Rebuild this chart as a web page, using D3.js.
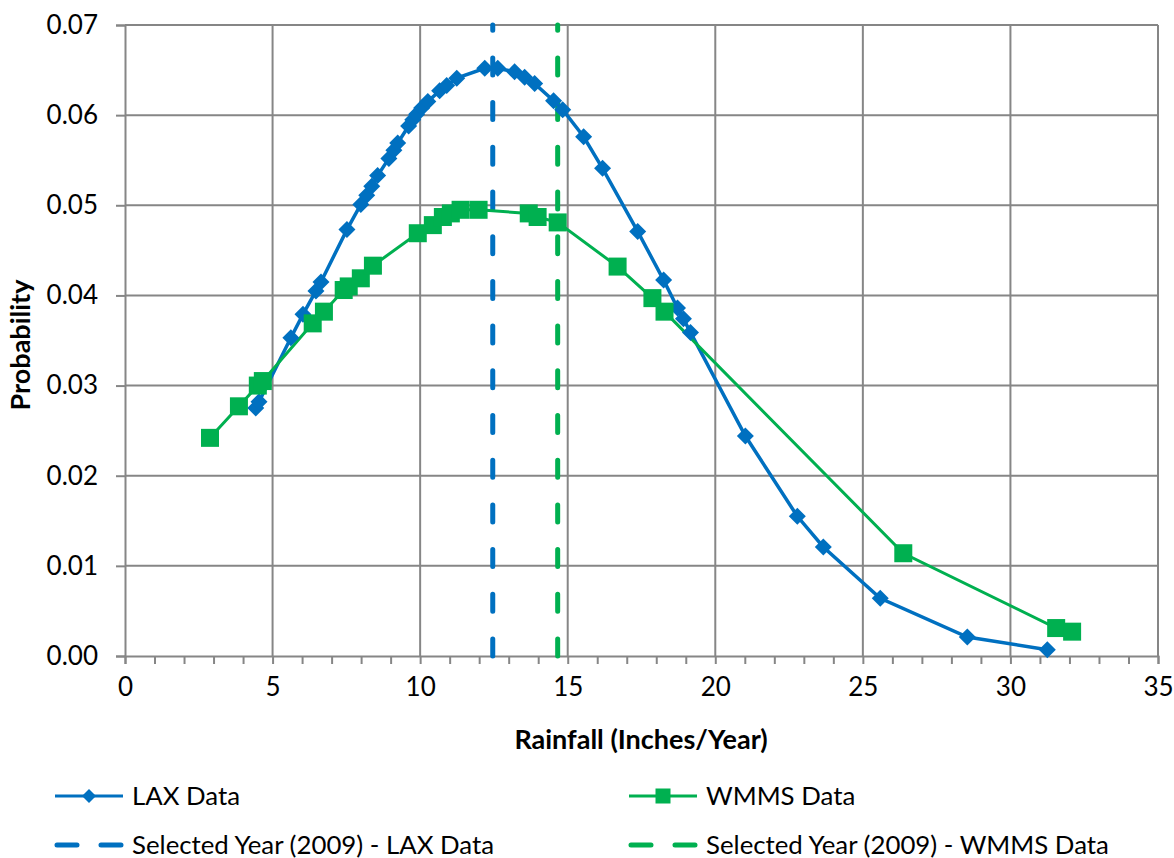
<!DOCTYPE html>
<html><head><meta charset="utf-8">
<script src="https://cdn.jsdelivr.net/npm/d3@7"></script>
<style>
html,body{margin:0;padding:0;background:#fff;}
svg text{font-family:Lato,"Noto Sans",sans-serif;fill:#000;}
</style></head>
<body><svg id="c" width="1174" height="858"></svg>
<script>
// ---- data ----
const laxX = [4.43,4.54,5.62,6.03,6.47,6.64,7.52,7.99,8.19,8.36,8.56,8.94,9.11,9.24,9.61,9.75,9.88,10.05,10.26,10.66,10.90,11.24,12.19,12.63,13.20,13.54,13.88,14.52,14.83,15.54,16.18,17.37,18.25,18.72,18.92,19.16,21.02,22.78,23.66,25.59,28.54,31.25];
const laxY = [0.0275,0.0282,0.0353,0.0379,0.0405,0.0415,0.0473,0.0501,0.0511,0.0521,0.0533,0.0552,0.0561,0.0569,0.0588,0.0595,0.0601,0.0608,0.0615,0.0627,0.0633,0.0641,0.0652,0.0652,0.0648,0.0642,0.0635,0.0616,0.0606,0.0576,0.0541,0.0471,0.0417,0.0386,0.0374,0.0359,0.0244,0.0155,0.0121,0.0064,0.0021,0.0007];
const wmmsX = [2.88,3.86,4.50,4.67,6.36,6.74,7.41,7.58,7.99,8.40,9.92,10.43,10.77,11.04,11.37,11.98,13.68,13.98,14.66,16.69,17.87,18.28,26.37,31.55,32.09];
const wmmsY = [0.0242,0.0277,0.0300,0.0305,0.0369,0.0382,0.0406,0.0410,0.0419,0.0433,0.0469,0.0478,0.0487,0.0491,0.0495,0.0495,0.0491,0.0487,0.0481,0.0432,0.0397,0.0382,0.0114,0.0031,0.0027];
const selectedLAX = 12.46;
const selectedWMMS = 14.66;
const xTicks = [0,5,10,15,20,25,30,35];
const yTicks = [0,0.01,0.02,0.03,0.04,0.05,0.06,0.07];
const legendLabels = ["LAX Data","WMMS Data","Selected Year (2009) - LAX Data","Selected Year (2009) - WMMS Data"];
const xTitle = "Rainfall (Inches/Year)";
const yTitle = "Probability";

const BLUE = "#0070C0", GREEN = "#00B050", GRID = "#868686";
const svg = d3.select("#c");
const L = 125, R = 1158, T = 25, B = 656;
const x = d3.scaleLinear().domain([0,35]).range([L,R]);
const y = d3.scaleLinear().domain([0,0.07]).range([B,T]);

// gridlines
const g = svg.append("g");
g.selectAll(".vg").data(xTicks.slice(1)).join("line")
  .attr("x1",d=>x(d)).attr("x2",d=>x(d)).attr("y1",T).attr("y2",B)
  .attr("stroke",GRID).attr("stroke-width",2);
g.selectAll(".hg").data(yTicks.slice(1)).join("line")
  .attr("x1",L).attr("x2",R).attr("y1",d=>y(d)).attr("y2",d=>y(d))
  .attr("stroke",GRID).attr("stroke-width",2);

// axes
const xAxis = d3.axisBottom(x).tickValues(d3.range(0,36,1)).tickSize(8).tickFormat(d=> xTicks.includes(d)? d : "").tickPadding(14);
const xa = svg.append("g").attr("transform",`translate(0,${B})`).call(xAxis);
xa.select(".domain").attr("stroke",GRID).attr("stroke-width",2);
xa.selectAll(".tick line").attr("stroke",GRID).attr("stroke-width",2);
xa.selectAll(".tick text").attr("font-size",26).attr("font-family","Lato");

const yAxis = d3.axisLeft(y).tickValues(yTicks).tickSize(9).tickFormat(d3.format(".2f")).tickPadding(18);
const ya = svg.append("g").attr("transform",`translate(${L},0)`).call(yAxis);
ya.select(".domain").attr("stroke",GRID).attr("stroke-width",2);
ya.selectAll(".tick line").attr("stroke",GRID).attr("stroke-width",2);
ya.selectAll(".tick text").attr("font-size",26).attr("font-family","Lato");

// selected year lines
function vline(v,color){
  svg.append("line").attr("x1",x(v)).attr("x2",x(v)).attr("y1",B).attr("y2",T)
    .attr("stroke",color).attr("stroke-width",5).attr("stroke-linecap","round")
    .attr("stroke-dasharray","17,27.7");
}
vline(selectedLAX,BLUE);
vline(selectedWMMS,GREEN);

const lax = laxX.map((v,i)=>[v,laxY[i]]);
const wmms = wmmsX.map((v,i)=>[v,wmmsY[i]]);
const line = d3.line().x(d=>x(d[0])).y(d=>y(d[1]));

svg.append("path").datum(lax).attr("d",line).attr("fill","none").attr("stroke",BLUE).attr("stroke-width",3.5);
svg.append("path").datum(wmms).attr("d",line).attr("fill","none").attr("stroke",GREEN).attr("stroke-width",3);

const dia = r => `M0,${-r}L${r},0L0,${r}L${-r},0Z`;
svg.append("g").selectAll("path").data(lax).join("path")
  .attr("transform",d=>`translate(${x(d[0])},${y(d[1])})`).attr("d",dia(8.5)).attr("fill",BLUE);
svg.append("g").selectAll("rect").data(wmms).join("rect")
  .attr("x",d=>x(d[0])-9).attr("y",d=>y(d[1])-9).attr("width",18).attr("height",18).attr("fill",GREEN);

// titles
svg.append("text").attr("x",641).attr("y",749).attr("text-anchor","middle")
  .attr("font-size",27).attr("font-weight","bold").text(xTitle);
svg.append("text").attr("transform","translate(30,345) rotate(-90)").attr("text-anchor","middle")
  .attr("font-size",27).attr("font-weight","bold").text(yTitle);

// legend
const leg = [
  {x:55, y:796, c:BLUE, type:"dia", t:legendLabels[0]},
  {x:629, y:796, c:GREEN, type:"sq", t:legendLabels[1]},
  {x:55, y:845, c:BLUE, type:"dash", t:legendLabels[2]},
  {x:629, y:845, c:GREEN, type:"dash", t:legendLabels[3]}
];
leg.forEach(d=>{
  const gg = svg.append("g");
  if(d.type==="dash"){
    gg.append("line").attr("x1",d.x+2).attr("x2",d.x+66).attr("y1",d.y).attr("y2",d.y)
      .attr("stroke",d.c).attr("stroke-width",5).attr("stroke-linecap","round").attr("stroke-dasharray","20,24");
  } else {
    gg.append("line").attr("x1",d.x).attr("x2",d.x+68).attr("y1",d.y).attr("y2",d.y)
      .attr("stroke",d.c).attr("stroke-width",3);
    if(d.type==="dia") gg.append("path").attr("transform",`translate(${d.x+34},${d.y})`).attr("d",dia(7)).attr("fill",d.c);
    else gg.append("rect").attr("x",d.x+34-7.5).attr("y",d.y-7.5).attr("width",15).attr("height",15).attr("fill",d.c);
  }
  gg.append("text").attr("x",d.x+77).attr("y",d.y).attr("dy","0.35em").attr("font-size",25.8).text(d.t);
});
</script></body></html>
